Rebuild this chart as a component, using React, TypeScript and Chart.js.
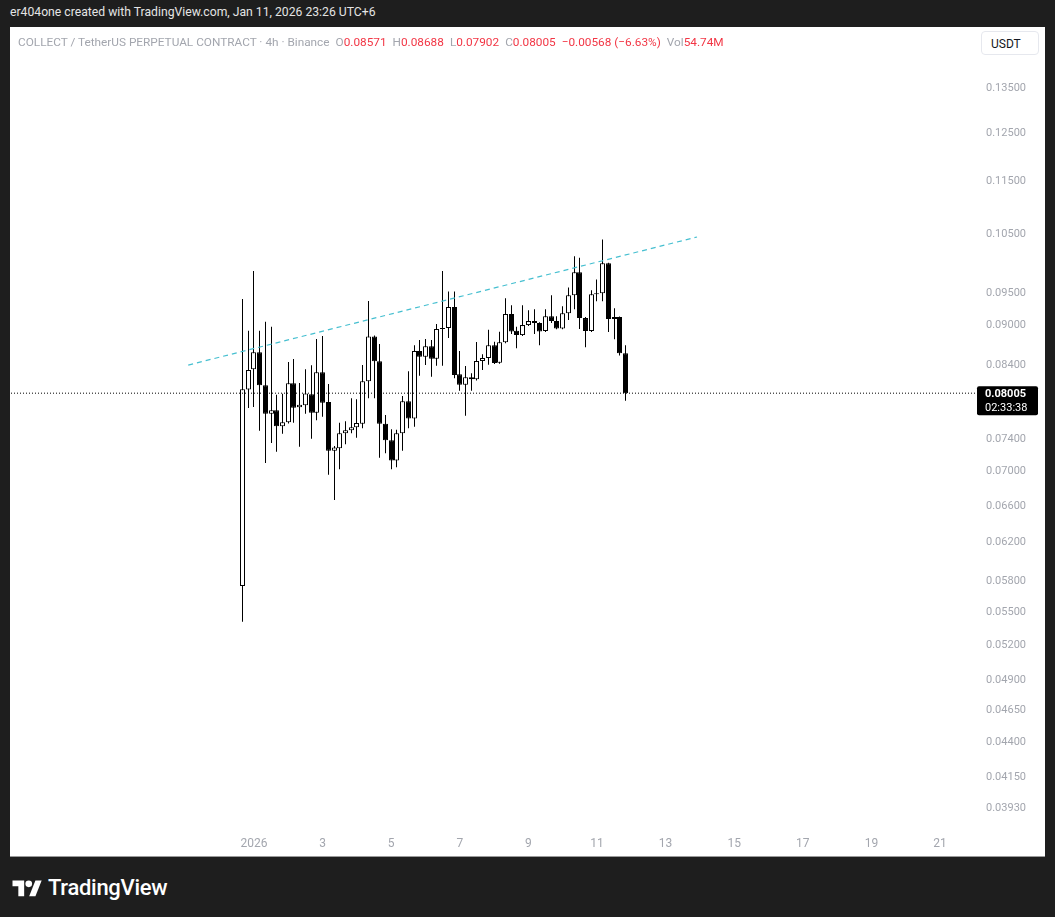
import React, { useEffect, useRef } from "react";
import { Chart, registerables } from "chart.js";

Chart.register(...registerables);

// Candle times: 4h bars, hours relative to Jan 1 2026 00:00 (UTC+6)
const START_HOUR = -8;
const STEP_HOURS = 4;

const opens = [0.05754, 0.08056, 0.0834, 0.08586, 0.08114, 0.07727, 0.07773, 0.07564, 0.07616, 0.08142, 0.07813, 0.0784, 0.07989, 0.0774, 0.08297, 0.07885, 0.07254, 0.07284, 0.07473, 0.07512, 0.07551, 0.07598, 0.0817, 0.08821, 0.08454, 0.07598, 0.07385, 0.07135, 0.07473, 0.07894, 0.07665, 0.08605, 0.08521, 0.08674, 0.08492, 0.08934, 0.0895, 0.09278, 0.08269, 0.08123, 0.08227, 0.08199, 0.08458, 0.08502, 0.08689, 0.08433, 0.08733, 0.09168, 0.08908, 0.08842, 0.08995, 0.09057, 0.09026, 0.08903, 0.09134, 0.09057, 0.08943, 0.09179, 0.09465, 0.09847, 0.09103, 0.08903, 0.09481, 0.09497, 0.09998, 0.09088, 0.09119, 0.08571];
const highs = [0.09406, 0.08908, 0.09868, 0.08908, 0.09046, 0.08969, 0.07984, 0.07997, 0.08444, 0.08488, 0.08146, 0.0834, 0.08399, 0.08782, 0.08827, 0.08132, 0.07313, 0.07611, 0.0763, 0.07935, 0.07921, 0.084, 0.09374, 0.08836, 0.08708, 0.07711, 0.07525, 0.0752, 0.07966, 0.08311, 0.08689, 0.08767, 0.08782, 0.08767, 0.09011, 0.09868, 0.09529, 0.09529, 0.08605, 0.08385, 0.08283, 0.08738, 0.08557, 0.08923, 0.08743, 0.08892, 0.09417, 0.09304, 0.08969, 0.09304, 0.09225, 0.09241, 0.0904, 0.09241, 0.09465, 0.09134, 0.09288, 0.09594, 0.10121, 0.10093, 0.0912, 0.09546, 0.09727, 0.10414, 0.1001, 0.09257, 0.0913, 0.08688];
const lows = [0.05413, 0.07804, 0.07818, 0.07507, 0.07102, 0.07351, 0.07242, 0.07468, 0.076, 0.07611, 0.07304, 0.07727, 0.07404, 0.07642, 0.07689, 0.06963, 0.06667, 0.07027, 0.07335, 0.07473, 0.07416, 0.07538, 0.07935, 0.07935, 0.07168, 0.07222, 0.07027, 0.07051, 0.07254, 0.07538, 0.07559, 0.08249, 0.084, 0.08235, 0.0839, 0.0839, 0.08798, 0.08213, 0.0804, 0.07703, 0.0804, 0.0818, 0.0833, 0.08405, 0.08414, 0.0842, 0.08718, 0.08857, 0.08645, 0.0883, 0.0898, 0.08857, 0.08689, 0.0889, 0.09026, 0.0893, 0.0893, 0.09072, 0.09241, 0.08934, 0.0866, 0.08888, 0.09369, 0.09369, 0.08888, 0.08778, 0.0854, 0.07902];
const closes = [0.0806, 0.0833, 0.08586, 0.08114, 0.07727, 0.07773, 0.07564, 0.07616, 0.08142, 0.07808, 0.07848, 0.08002, 0.0774, 0.08297, 0.07876, 0.07254, 0.07294, 0.07473, 0.07512, 0.07551, 0.07607, 0.0817, 0.08821, 0.08454, 0.07598, 0.07385, 0.07135, 0.07473, 0.07894, 0.07665, 0.08605, 0.08521, 0.08674, 0.08492, 0.08934, 0.0895, 0.09278, 0.08259, 0.08123, 0.08227, 0.08199, 0.08458, 0.08502, 0.08689, 0.08429, 0.08733, 0.09168, 0.08897, 0.08842, 0.08995, 0.09057, 0.09026, 0.08897, 0.09134, 0.09057, 0.08943, 0.09179, 0.09465, 0.09847, 0.09103, 0.08903, 0.09481, 0.09497, 0.09998, 0.09088, 0.09119, 0.08571, 0.08005];

const priceTicks = [0.135, 0.125, 0.115, 0.105, 0.095, 0.09, 0.084, 0.074, 0.07, 0.066, 0.062, 0.058, 0.055, 0.052, 0.049, 0.0465, 0.044, 0.0415, 0.0393];
const dayTicks = [1, 3, 5, 7, 9, 11, 13, 15, 17, 19, 21];
const dayTickLabels = ["2026", "3", "5", "7", "9", "11", "13", "15", "17", "19", "21"];

const trendTimes = [-46, 310];
const trendPrices = [0.084, 0.1046];

const lastPrice = 0.08005;
const countdown = "02:33:38";

const X_MIN = -170;
const X_MAX = 505.2;
const Y_MIN = 0.03789;
const Y_MAX = 0.1496;

const FONT = "Roboto, 'Liberation Sans', sans-serif";
const AXIS_GRAY = "#a3a6ae";
const RED = "#f23645";

// Snap candle elements to the pixel grid so 1px wicks and borders stay crisp
const pixelSnapPlugin = {
  id: "pixelSnap",
  beforeDatasetsDraw(chart: any) {
    chart.data.datasets.forEach((ds: any, i: number) => {
      if (ds.type !== "bar") return;
      const meta = chart.getDatasetMeta(i);
      meta.data.forEach((el: any) => {
        el.x = Math.floor(el.x) + 0.5;
      });
    });
  },
};

const priceLabelPlugin = {
  id: "priceLabel",
  afterDraw(chart: any) {
    const y = chart.scales.y.getPixelForValue(lastPrice);
    const ctx = chart.ctx;
    const left = chart.chartArea.right + 1;
    ctx.save();
    ctx.fillStyle = "#000";
    ctx.beginPath();
    ctx.roundRect(left, y - 7, 61, 29, 2);
    ctx.fill();
    ctx.fillStyle = "#fff";
    ctx.textBaseline = "middle";
    ctx.textAlign = "left";
    ctx.font = `bold 11px ${FONT}`;
    ctx.fillText(lastPrice.toFixed(5), left + 8, y + 1);
    ctx.font = `11px ${FONT}`;
    ctx.fillText(countdown, left + 8, y + 15);
    ctx.restore();
  },
};

function CandleChart() {
  const ref = useRef<HTMLCanvasElement | null>(null);
  useEffect(() => {
    if (!ref.current) return;
    const times = opens.map((_, i) => START_HOUR + i * STEP_HOURS);
    const wickData = times.map((t, i) => ({ x: t, y: [lows[i], highs[i]] }));
    const bodyData = times.map((t, i) => ({ x: t, y: [opens[i], closes[i]] }));
    const bodyFill = times.map((_, i) => (closes[i] >= opens[i] ? "#ffffff" : "#000000"));

    const chart = new Chart(ref.current, {
      type: "bar",
      data: {
        datasets: [
          {
            type: "line",
            data: [
              { x: X_MIN, y: lastPrice },
              { x: X_MAX, y: lastPrice },
            ],
            borderColor: "#000",
            borderWidth: 1,
            borderDash: [1, 2],
            pointRadius: 0,
            order: 0,
          } as any,
          {
            type: "line",
            data: trendTimes.map((t, i) => ({ x: t, y: trendPrices[i] })),
            borderColor: "#45bfd0",
            borderWidth: 1.2,
            borderDash: [5, 4],
            pointRadius: 0,
            order: 1,
          } as any,
          {
            type: "bar",
            data: bodyData as any,
            backgroundColor: bodyFill,
            borderColor: "#000",
            borderWidth: 1,
            borderSkipped: false,
            barThickness: 5,
            grouped: false,
            inflateAmount: 0,
            order: 2,
          } as any,
          {
            type: "bar",
            data: wickData as any,
            backgroundColor: "#000",
            borderWidth: 0,
            barThickness: 1,
            grouped: false,
            inflateAmount: 0,
            order: 3,
          } as any,
        ],
      },
      options: {
        responsive: false,
        animation: false,
        events: [],
        layout: { autoPadding: false, padding: { left: 1, top: 1, right: 0, bottom: 0 } },
        plugins: { legend: { display: false }, tooltip: { enabled: false } },
        scales: {
          x: {
            type: "linear",
            min: X_MIN,
            max: X_MAX,
            bounds: "data",
            offset: false,
            grid: { display: false, drawTicks: false },
            border: { display: false },
            afterBuildTicks: (scale: any) => {
              scale.ticks = dayTicks.map((d) => ({ value: (d - 1) * 24 }));
              scale.min = X_MIN;
              scale.max = X_MAX;
            },
            afterFit: (scale: any) => {
              scale.height = 26;
              scale.paddingLeft = 0;
              scale.paddingRight = 0;
            },
            ticks: {
              autoSkip: false,
              maxRotation: 0,
              padding: 7,
              color: AXIS_GRAY,
              font: { family: FONT, size: 12 },
              callback: (value: any) => {
                const idx = dayTicks.indexOf(Number(value) / 24 + 1);
                return idx >= 0 ? dayTickLabels[idx] : "";
              },
            },
          },
          y: {
            type: "logarithmic",
            position: "right",
            min: Y_MIN,
            max: Y_MAX,
            bounds: "data",
            grid: { display: false, drawTicks: false },
            border: { display: false },
            afterBuildTicks: (scale: any) => {
              scale.ticks = priceTicks.map((v) => ({ value: v }));
              scale.min = Y_MIN;
              scale.max = Y_MAX;
            },
            afterFit: (scale: any) => {
              scale.width = 69;
              scale.paddingTop = 0;
              scale.paddingBottom = 0;
            },
            ticks: {
              autoSkip: false,
              padding: 10,
              color: AXIS_GRAY,
              font: { family: FONT, size: 11 },
              callback: (value: any) => Number(value).toFixed(5),
            },
          },
        },
      },
      plugins: [pixelSnapPlugin, priceLabelPlugin],
    });
    return () => chart.destroy();
  }, []);
  return <canvas ref={ref} width={1035} height={829} style={{ display: "block" }} />;
}

function LegendItem({ k, v }: { k: string; v: string }) {
  return (
    <span style={{ marginLeft: 6 }}>
      <span style={{ color: "#a3a6ae" }}>{k}</span>
      <span style={{ color: RED }}>{v}</span>
    </span>
  );
}

export default function App() {
  return (
    <div
      style={{
        position: "fixed",
        left: 0,
        top: 0,
        width: 1055,
        height: 917,
        background: "#1e1e1e",
        fontFamily: FONT,
        overflow: "hidden",
      }}
    >
      <div
        style={{
          position: "absolute",
          left: 10,
          top: 4,
          color: "#e4e4e4",
          fontSize: 12.2,
          lineHeight: "16px",
          whiteSpace: "nowrap",
        }}
      >
        er404one created with TradingView.com, Jan 11, 2026 23:26 UTC+6
      </div>

      <div
        style={{
          position: "absolute",
          left: 10,
          top: 27,
          width: 1035,
          height: 829,
          background: "#ffffff",
          borderBottom: "1px solid #9a9a9a",
          boxSizing: "content-box",
        }}
      >
        <CandleChart />
        <div
          style={{
            position: "absolute",
            left: 8,
            top: 7,
            fontSize: 11.8,
            lineHeight: "16px",
            whiteSpace: "nowrap",
            color: "#a3a6ae",
          }}
        >
          <span>COLLECT / TetherUS PERPETUAL CONTRACT · 4h · Binance</span>
          <LegendItem k="O" v="0.08571" />
          <LegendItem k="H" v="0.08688" />
          <LegendItem k="L" v="0.07902" />
          <LegendItem k="C" v="0.08005" />
          <span style={{ marginLeft: 6, color: RED }}>−0.00568 (−6.63%)</span>
          <LegendItem k="Vol" v="54.74M" />
        </div>
        <div
          style={{
            position: "absolute",
            left: 971,
            top: 4,
            width: 58,
            height: 24,
            border: "1px solid #e6e8ee",
            borderRadius: 4,
            background: "#fff",
            color: "#131722",
            fontSize: 12,
            lineHeight: "24px",
            paddingLeft: 9,
            boxSizing: "border-box",
          }}
        >
          USDT
        </div>
      </div>

      <div
        style={{
          position: "absolute",
          left: 12,
          top: 875,
          display: "flex",
          alignItems: "center",
          color: "#ffffff",
        }}
      >
        <svg width="31" height="20" viewBox="0 0 36 24" style={{ display: "block" }}>
          <path d="M14 22H7V10H0V3h14v19z" fill="#fff" />
          <circle cx="19.5" cy="7" r="4" fill="#fff" />
          <path d="M27.5 22H20L27.5 3H35z" fill="#fff" />
        </svg>
        <span style={{ marginLeft: 5, fontSize: 22, fontWeight: 500, letterSpacing: -0.3 }}>TradingView</span>
      </div>
    </div>
  );
}
